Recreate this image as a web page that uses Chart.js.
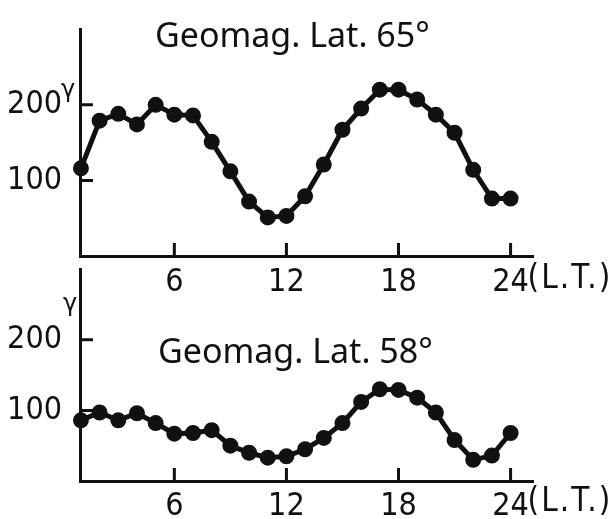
<!DOCTYPE html>
<html>
<head>
<meta charset="utf-8">
<script src="https://cdn.jsdelivr.net/npm/chart.js@4"></script>
<style>
  body { margin: 0; width: 615px; height: 519px; background: #fff; position: relative; overflow: hidden; }
  canvas { position: absolute; left: 0; }
  .title { position: absolute; font-family: "Noto Sans"; font-size: 34px; line-height: 34px; color: #111; white-space: nowrap; }
</style>
</head>
<body>
<canvas id="top" width="615" height="310" style="top:0"></canvas>
<canvas id="bottom" width="615" height="279" style="top:240px"></canvas>
<div class="title" style="left:155px; top:17px">Geomag. Lat. 65°</div>
<div class="title" style="left:158px; top:333px">Geomag. Lat. 58°</div>
<script>
// local time (hours)
const hours = [1, 2, 3, 4, 5, 6, 7, 8, 9, 10, 11, 12, 13, 14, 15, 16, 17, 18, 19, 20, 21, 22, 23, 24];
// amplitude in gamma
const lat65 = [116, 179, 188, 174, 200, 187, 186, 151, 112, 72, 51, 53, 79, 121, 167, 195, 220, 220, 207, 187, 163, 114, 76, 76];
const lat58 = [86, 97, 86, 96, 82, 67, 68, 72, 50, 40, 33, 35, 45, 61, 82, 112, 130, 129, 118, 97, 58, 30, 36, 68];
const xTicks = [6, 12, 18, 24];
const yTicks = [100, 200];

const INK = '#111';
const FAMILY = '"DejaVu Sans Condensed", "DejaVu Sans"';
const labelFont = { family: FAMILY, size: 32 };

// inward tick marks, gamma unit and (L.T.) label
const axisMarks = {
  id: 'axisMarks',
  afterDraw(chart, args, opts) {
    const { ctx, scales: { x, y } } = chart;
    ctx.save();
    ctx.strokeStyle = INK;
    ctx.lineWidth = 3;
    ctx.beginPath();
    yTicks.forEach(v => {
      const py = y.getPixelForValue(v);
      ctx.moveTo(x.left, py);
      ctx.lineTo(x.left + 13, py);
    });
    xTicks.forEach(v => {
      const px = x.getPixelForValue(v);
      ctx.moveTo(px, y.bottom);
      ctx.lineTo(px, y.bottom - 13);
    });
    ctx.stroke();

    ctx.fillStyle = INK;
    ctx.font = '24px "DejaVu Sans"';
    ctx.textAlign = 'center';
    ctx.textBaseline = 'middle';
    ctx.fillText('γ', opts.gx, y.getPixelForValue(200) + opts.gy);

    ctx.font = '33px ' + FAMILY;
    ctx.letterSpacing = '2px';
    ctx.textAlign = 'left';
    ctx.fillText('(L.T.)', x.getPixelForValue(24) + 17, y.bottom + opts.lt);
    ctx.restore();
  }
};

function makeChart(id, values, pad, xHeight, xPad, marks) {
  return new Chart(document.getElementById(id), {
    type: 'line',
    data: {
      labels: hours,
      datasets: [{
        data: hours.map((h, i) => ({ x: h, y: values[i] })),
        borderColor: INK,
        backgroundColor: INK,
        borderWidth: 5,
        pointRadius: 5.5,
        pointBackgroundColor: INK,
        tension: 0,
        clip: false
      }]
    },
    options: {
      responsive: false,
      animation: false,
      layout: { padding: { top: pad, right: 82, left: 0, bottom: 0 } },
      plugins: { legend: { display: false }, tooltip: { enabled: false }, axisMarks: marks },
      scales: {
        x: {
          type: 'linear',
          min: 0.95,
          max: 25.2,
          afterBuildTicks: s => { s.ticks = xTicks.map(v => ({ value: v })); },
          afterFit: s => { s.height = xHeight; },
          grid: { display: false },
          border: { display: true, color: INK, width: 3 },
          ticks: { color: INK, font: labelFont, padding: xPad, maxRotation: 0 }
        },
        y: {
          min: 0,
          max: 300,
          afterBuildTicks: s => { s.ticks = yTicks.map(v => ({ value: v })); },
          afterFit: s => { s.width = 80; },
          grid: { display: false },
          border: { display: true, color: INK, width: 3 },
          ticks: { color: INK, font: labelFont, padding: 10 }
        }
      }
    },
    plugins: [axisMarks]
  });
}

makeChart('top', lat65, 27, 54, -1, { gx: 68, gy: -14, lt: 23 });
makeChart('bottom', lat58, 13, 38, -2, { gx: 70, gy: -35, lt: 21 });
</script>
</body>
</html>
